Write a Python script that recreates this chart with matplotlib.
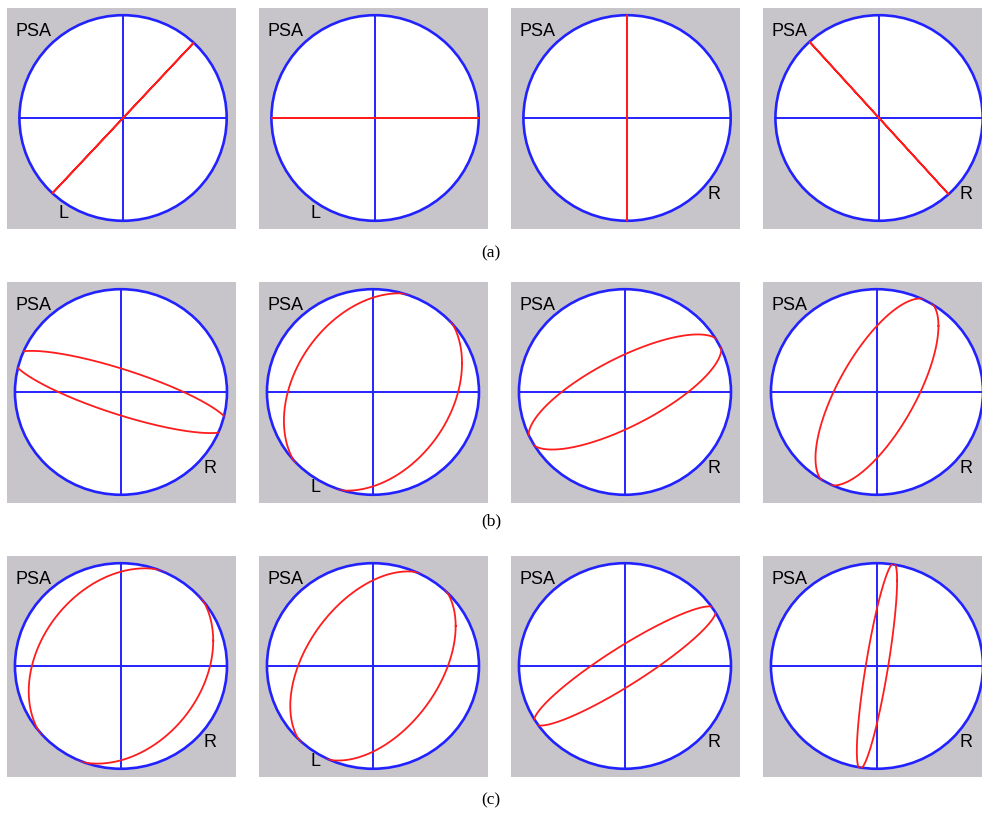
import numpy as np
import matplotlib
matplotlib.use("Agg")
import matplotlib.pyplot as plt
from matplotlib.patches import Circle

# polarization state of each panel: field amplitudes (fraction of circle radius)
# and phase difference between the y and x components
row_labels = ["(a)", "(b)", "(c)"]
amp_x = [[0.68, 1.00, 0.00, 0.67],
         [1.03, 0.84, 0.91, 0.58],
         [0.87, 0.78, 0.86, 0.19]]
amp_y = [[0.73, 0.00, 1.00, 0.74],
         [0.40, 0.96, 0.56, 0.91],
         [0.95, 0.92, 0.58, 1.00]]
phase_deg = [[0, 0, 0, 180],
             [145, 73, 41, 45],
             [75, 65, 22, 34]]
handedness = [["L", "L", "R", "R"],
              ["R", "L", "R", "R"],
              ["R", "L", "R", "R"]]

W, H = 982, 814
col_left = [7, 259, 511, 763]
row_top = [8, 282, 556]
panel_w, panel_h = 229, 221
caption_y = [253, 521, 800]
xlims = [(-1.12, 1.09), (-1.075, 1.085), (-1.075, 1.085)]
ylim = (-1.08, 1.07)

GRAY = "#c8c5ca"
BLUE = "#2222ff"
RED = "#ff1c1c"
label_pos = {"L": (0.245, 0.07), "R": (0.885, 0.155)}

fig = plt.figure(figsize=(W / 100, H / 100), dpi=100)
t = np.linspace(0, 2 * np.pi, 600)

for r in range(3):
    for c in range(4):
        ax = fig.add_axes([col_left[c] / W, 1 - (row_top[r] + panel_h) / H,
                           panel_w / W, panel_h / H])
        ax.set_facecolor(GRAY)
        ax.set_xlim(*xlims[r])
        ax.set_ylim(*ylim)
        ax.set_xticks([])
        ax.set_yticks([])
        for s in ax.spines.values():
            s.set_visible(False)

        ax.add_patch(Circle((0, 0), 1, facecolor="white", edgecolor="none", zorder=1))
        ax.plot([-1, 1], [0, 0], color=BLUE, lw=1.4, zorder=2)
        ax.plot([0, 0], [-1, 1], color=BLUE, lw=1.4, zorder=2)
        ax.add_patch(Circle((0, 0), 1, facecolor="none", edgecolor=BLUE,
                            lw=1.9, zorder=3))

        # polarization ellipse, cut off at the unit circle
        d = np.deg2rad(phase_deg[r][c])
        ex = amp_x[r][c] * np.cos(t)
        ey = amp_y[r][c] * np.cos(t - d)
        line, = ax.plot(ex, ey, color=RED, lw=1.3, zorder=4)
        line.set_clip_path(Circle((0, 0), 1.005, transform=ax.transData))

        ax.text(0.035, 0.895, "PSA", transform=ax.transAxes, ha="left",
                va="center", fontsize=13, family="Liberation Sans", zorder=5)
        lx, ly = label_pos[handedness[r][c]]
        ax.text(lx, ly, handedness[r][c], transform=ax.transAxes, ha="center",
                va="center", fontsize=13, family="Liberation Sans", zorder=5)

    fig.text(491 / W, 1 - caption_y[r] / H, row_labels[r], ha="center",
             va="center", fontsize=12.5, family="Liberation Serif")

fig.savefig("out.png", dpi=100, facecolor="white")
